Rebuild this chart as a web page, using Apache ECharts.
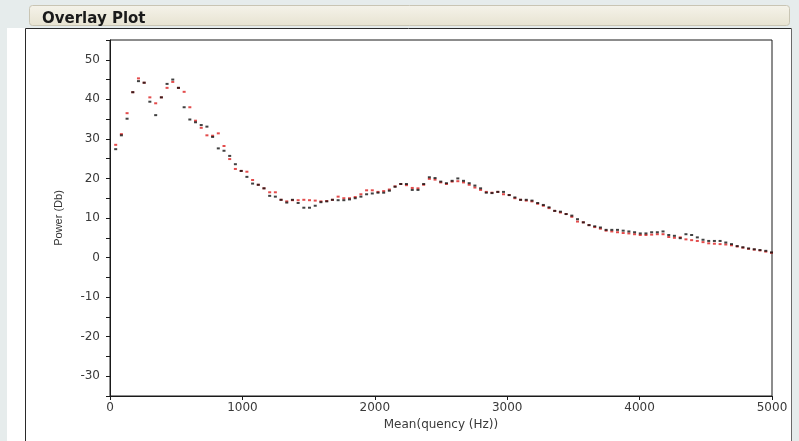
<!DOCTYPE html>
<html>
<head>
<meta charset="utf-8">
<title>Overlay Plot</title>
<script src="https://cdn.jsdelivr.net/npm/echarts@6/dist/echarts.min.js"></script>
<style>
  html, body { margin: 0; padding: 0; background: #e6ecec; }
  #chart { width: 799px; height: 441px; }
</style>
</head>
<body>
<div id="chart"></div>
<script>
// Frequency bins (Hz)
const freqHz = [
  43, 86, 129, 172, 215, 258, 301, 345, 388, 431,
  474, 517, 560, 603, 646, 689, 732, 775, 818, 861,
  904, 947, 991, 1034, 1077, 1120, 1163, 1206, 1249, 1292,
  1335, 1378, 1421, 1464, 1507, 1550, 1593, 1637, 1680, 1723,
  1766, 1809, 1852, 1895, 1938, 1981, 2024, 2067, 2110, 2153,
  2196, 2239, 2283, 2326, 2369, 2412, 2455, 2498, 2541, 2584,
  2627, 2670, 2713, 2756, 2799, 2842, 2885, 2929, 2972, 3015,
  3058, 3101, 3144, 3187, 3230, 3273, 3316, 3359, 3402, 3445,
  3488, 3531, 3575, 3618, 3661, 3704, 3747, 3790, 3833, 3876,
  3919, 3962, 4005, 4048, 4091, 4134, 4177, 4220, 4263, 4307,
  4350, 4393, 4436, 4479, 4522, 4565, 4608, 4651, 4694, 4737,
  4780, 4823, 4866, 4909, 4953, 4996
];

// Power (Db), first recording (black)
const powerBlack = [
  27.4, 30.9, 35.1, 41.8, 44.6, 44.2, 39.4, 36.0, 40.5, 43.9,
  45.0, 42.9, 38.0, 34.9, 34.2, 33.5, 33.1, 30.5, 27.6, 27.0,
  25.7, 23.6, 21.9, 20.4, 18.7, 18.4, 17.5, 15.6, 15.4, 14.6,
  13.9, 14.6, 13.8, 12.6, 12.6, 13.1, 14.0, 14.2, 14.6, 14.5,
  14.5, 14.7, 15.0, 15.4, 16.0, 16.2, 16.4, 16.4, 16.9, 17.9,
  18.6, 18.6, 17.1, 17.1, 18.6, 20.3, 20.1, 19.2, 18.8, 19.4,
  20.0, 19.4, 18.8, 18.2, 17.5, 16.4, 16.3, 16.6, 16.6, 15.8,
  15.2, 14.6, 14.6, 14.4, 13.8, 13.3, 12.7, 11.8, 11.6, 11.0,
  10.6, 9.7, 8.9, 8.2, 7.9, 7.6, 7.0, 7.0, 7.0, 6.8,
  6.6, 6.4, 6.1, 6.1, 6.4, 6.4, 6.6, 5.7, 5.5, 4.9,
  5.9, 5.7, 5.1, 4.5, 4.2, 4.2, 4.2, 3.8, 3.4, 2.9,
  2.6, 2.3, 2.1, 1.9, 1.7, 1.3
];

// Power (Db), second recording (red)
const powerRed = [
  28.5, 31.2, 36.5, 41.8, 45.3, 44.2, 40.5, 39.0, 40.5, 42.9,
  44.4, 42.9, 41.9, 38.0, 34.6, 32.8, 30.9, 30.8, 31.4, 28.2,
  24.9, 22.4, 21.9, 21.7, 19.6, 18.4, 17.5, 16.5, 16.5, 14.6,
  14.2, 14.5, 14.5, 14.6, 14.5, 14.4, 14.2, 14.3, 14.6, 15.4,
  15.0, 15.0, 15.3, 16.0, 17.0, 17.0, 16.6, 16.8, 17.2, 18.0,
  18.6, 18.3, 17.6, 17.5, 18.4, 19.9, 19.7, 19.0, 18.6, 19.2,
  19.3, 19.0, 18.4, 17.7, 17.1, 16.6, 16.4, 16.6, 16.0, 15.8,
  15.0, 14.6, 14.4, 14.2, 13.6, 13.1, 12.5, 11.8, 11.4, 11.0,
  10.3, 9.1, 8.9, 8.2, 7.7, 7.3, 6.8, 6.6, 6.4, 6.2,
  6.1, 5.9, 5.7, 5.7, 5.8, 5.9, 5.9, 5.2, 5.0, 5.1,
  4.6, 4.4, 4.2, 3.9, 3.6, 3.5, 3.4, 3.3, 3.1, 2.8,
  2.5, 2.2, 2.0, 1.8, 1.5, 1.2
];

const xTickStep = 1000;
const yTickStep = 5;
const yLabelStep = 10;

function pairs(xs, ys) {
  return xs.map((x, i) => [x, ys[i]]);
}

const chart = echarts.init(document.getElementById('chart'), null, { renderer: 'canvas' });

chart.setOption({
  backgroundColor: '#e6ecec',
  animation: false,
  title: {
    text: 'Overlay Plot',
    left: 37,
    top: 7,
    textStyle: {
      fontFamily: 'DejaVu Sans',
      fontWeight: 'bold',
      fontSize: 15,
      color: '#1a1a1a'
    }
  },
  graphic: [
    // report panel
    {
      type: 'rect', z: -10, silent: true,
      shape: { x: 7, y: 28, width: 785, height: 420 },
      style: { fill: '#ffffff' }
    },
    {
      type: 'polyline', z: -9, silent: true,
      shape: { points: [[25.5, 441], [25.5, 28.5], [791.5, 28.5]] },
      style: { stroke: '#2a2a2a', lineWidth: 1, fill: null }
    },
    {
      type: 'line', z: -9, silent: true,
      shape: { x1: 791.5, y1: 28.5, x2: 791.5, y2: 441 },
      style: { stroke: '#6a6a6a', lineWidth: 1 }
    },
    // outline header bar
    {
      type: 'rect', z: -8, silent: true,
      shape: { x: 29.5, y: 5.5, width: 760, height: 20, r: 3 },
      style: {
        fill: new echarts.graphic.LinearGradient(0, 0, 0, 1, [
          { offset: 0, color: '#f5f3ea' },
          { offset: 1, color: '#e7e3d1' }
        ]),
        stroke: '#c9c5b4',
        lineWidth: 1
      }
    }
  ],
  grid: {
    left: 110,
    right: 27,
    top: 40,
    bottom: 45,
    show: true,
    backgroundColor: '#ffffff',
    borderColor: '#1a1a1a',
    borderWidth: 1
  },
  xAxis: {
    type: 'value',
    min: 0,
    max: 5000,
    interval: xTickStep,
    name: 'Mean(quency (Hz))',
    nameLocation: 'middle',
    nameGap: 20,
    nameTextStyle: {
      fontFamily: 'DejaVu Sans',
      fontSize: 12,
      color: '#3a3a3a'
    },
    axisLine: { show: true, onZero: false, lineStyle: { color: '#1a1a1a', width: 1 } },
    axisTick: { show: true, length: 4, lineStyle: { color: '#1a1a1a' } },
    axisLabel: {
      fontFamily: 'DejaVu Sans',
      fontSize: 12,
      color: '#3a3a3a',
      margin: 6,
      formatter: v => String(v)
    },
    splitLine: { show: false }
  },
  yAxis: {
    type: 'value',
    min: -35,
    max: 55,
    interval: yTickStep,
    name: 'Power (Db)',
    nameLocation: 'middle',
    nameGap: 46,
    nameRotate: 90,
    nameTextStyle: {
      fontFamily: 'Liberation Sans',
      fontSize: 11,
      color: '#333333'
    },
    axisLine: { show: true, onZero: false, lineStyle: { color: '#1a1a1a', width: 1 } },
    axisTick: { show: true, length: 4, lineStyle: { color: '#1a1a1a' } },
    axisLabel: {
      fontFamily: 'DejaVu Sans',
      fontSize: 12,
      color: '#3a3a3a',
      margin: 10,
      formatter: v => (v % yLabelStep === 0 ? String(v) : '')
    },
    splitLine: { show: false }
  },
  series: [
    {
      name: 'Power B',
      type: 'scatter',
      data: pairs(freqHz, powerRed),
      symbol: 'rect',
      symbolSize: [3, 2],
      itemStyle: { color: '#dc1f1f' },
      z: 2
    },
    {
      name: 'Power A',
      type: 'scatter',
      data: pairs(freqHz, powerBlack),
      symbol: 'rect',
      symbolSize: [3, 2],
      itemStyle: { color: '#111111' },
      z: 3
    }
  ]
});
</script>
</body>
</html>
